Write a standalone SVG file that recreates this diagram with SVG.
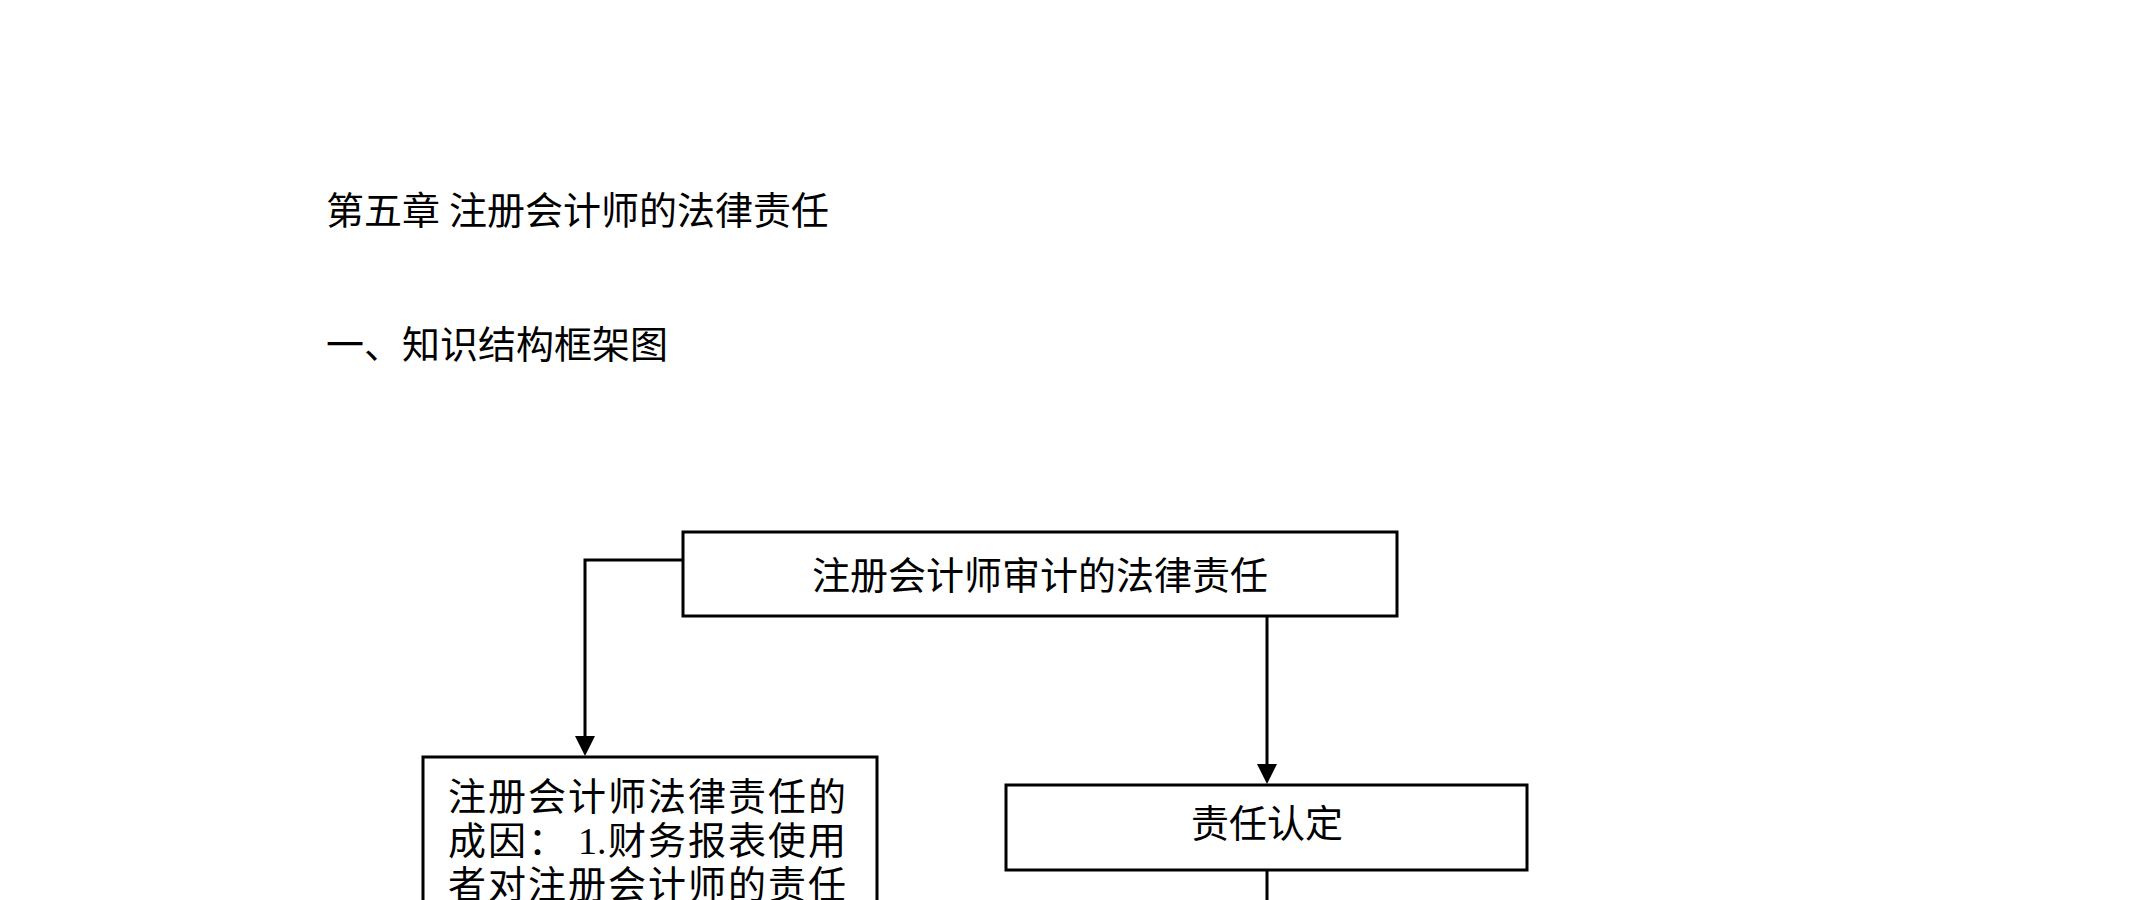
<svg xmlns="http://www.w3.org/2000/svg" width="2149" height="900" viewBox="0 0 2149 900">
<style>
text{font-family:"Noto Sans CJK SC","Noto Sans",sans-serif;font-size:38px;fill:#000}
.box{fill:#fff;stroke:#000;stroke-width:3}
.conn{fill:none;stroke:#000;stroke-width:3}
.mid{text-anchor:middle}
.num{font-family:"Liberation Serif",serif}
</style>
<defs>
<marker id="arr" markerUnits="userSpaceOnUse" markerWidth="20" markerHeight="20" viewBox="0 0 20 20" refX="10" refY="10" orient="auto">
<path d="M0,0 L20,10 L0,20 z" fill="#000"/>
</marker>
</defs>
<rect width="2149" height="900" fill="#fff"/>
<g id="headings">
<text x="326" y="224">第五章<tspan x="449">注册会计师的法律责任</tspan></text>
<text x="326" y="358">一、知识结构框架图</text>
</g>
<g id="connectors">
<path class="conn" d="M683,560 H585 V746" marker-end="url(#arr)"/>
<path class="conn" d="M1267,617 V774" marker-end="url(#arr)"/>
<path class="conn" d="M1267,871 V900"/>
</g>
<g id="node-root">
<rect class="box" x="683" y="532" width="714" height="84"/>
<text class="mid" x="1040" y="589">注册会计师审计的法律责任</text>
</g>
<g id="node-causes">
<rect class="box" x="423" y="757" width="454" height="300"/>
<text x="448" y="810" letter-spacing="2">注册会计师法律责任的</text>
<text x="448" y="854" letter-spacing="2">成因：</text>
<text class="num" x="578" y="854">1.</text>
<text x="608" y="854" letter-spacing="2">财务报表使用</text>
<text x="448" y="898" letter-spacing="2">者对注册会计师的责任</text>
</g>
<g id="node-liability">
<rect class="box" x="1006" y="785" width="521" height="85"/>
<text class="mid" x="1267" y="837">责任认定</text>
</g>
</svg>
